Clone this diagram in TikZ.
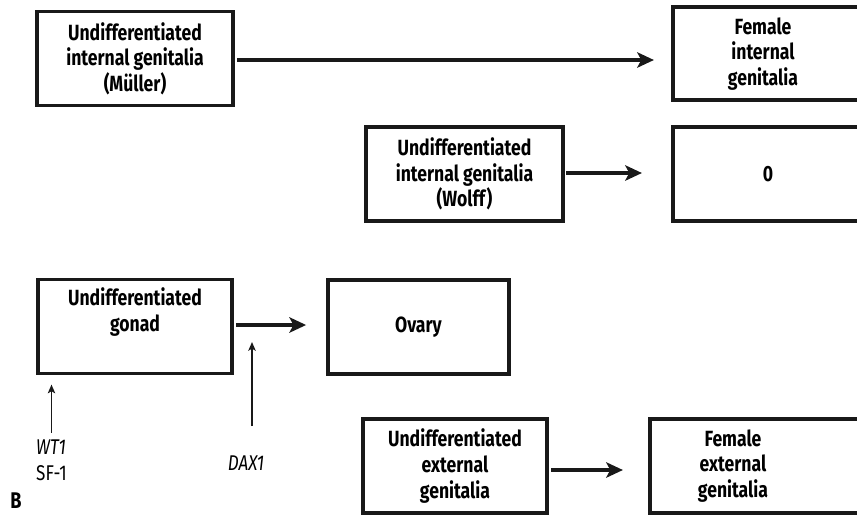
\documentclass[tikz,border=0pt]{standalone}
\usepackage{fontspec}
\setmainfont{Fira Sans}[FakeStretch=0.8]
\usepackage{tikz}
\usetikzlibrary{
  arrows.meta,
  positioning
}

\begin{document}
\begin{tikzpicture}[
  x=0.75pt, y=-0.75pt,
  boxtext/.style={font=\fontsize{16.5}{19.2}\selectfont\bfseries, align=center,
                  inner sep=0pt},
  box/.style={boxtext, draw=black!90, line width=2.6pt, fill=white,
              minimum height=70.5pt},
  gene/.style={font=\fontsize{16}{19.5}\selectfont, align=left, inner sep=0pt},
  thickarrow/.style={draw=black!90, line width=3.2pt,
                     -{Stealth[length=12.5pt, width=11.5pt, inset=3pt]}},
  thinarrow/.style={draw=black!90, line width=1.4pt,
                    -{Stealth[length=6.5pt, width=5.5pt, inset=1.5pt]}}
]

\useasboundingbox (0,0) rectangle (857,515);
\clip (0,0) rectangle (857,515);

% upper rows: internal genitalia
\node[box, minimum width=147pt] (mueller) at (135,58.5)
  {Undifferentiated\\internal genitalia\\(Müller)};
\node[box, minimum width=165pt, minimum height=69.5pt] (femint) at (783,53.5) {};
\node[boxtext] (feminttext) at (763,54) {Female\\internal\\genitalia};

\node[box, minimum width=148pt] (wolff) at (464.5,174)
  {Undifferentiated\\internal genitalia\\(Wolff)};
\node[box, minimum width=165pt] (zero) at (783,174) {};
\node[boxtext] (zerotext) at (768,174) {0};

% gonad and the genes acting on it
\node[box, minimum width=145.5pt] (gonad) at (135,326.5)
  {Undifferentiated\\gonad\\\strut};
\node[box, minimum width=136pt] (ovary) at (418.5,327) {Ovary};

\node[gene] (wt1) at (51.5,460) {\textit{WT1}\\SF-1};
\node[gene] (dax1) at (246,463) {\textit{DAX1}};
\coordinate (daxtip) at (252,342);

% external genitalia
\node[box, minimum width=138pt] (extgen) at (455,466)
  {Undifferentiated\\external\\genitalia};
\node[box, minimum width=165pt] (femext) at (760,466) {};
\node[boxtext] (femexttext) at (733,466) {Female\\external\\genitalia};

\node[font=\fontsize{17}{17}\selectfont\bfseries, inner sep=0pt] (panel) at (16,501) {B};

\draw[thickarrow, shorten <=2pt, shorten >=13pt] (mueller.east |- 0,60) -- (femint.west |- 0,60);
\draw[thickarrow, shorten <=1pt, shorten >=22pt] (wolff.east |- 0,173) -- (zero.west |- 0,173);
\draw[thickarrow, shorten <=2pt, shorten >=15pt] (gonad.east |- 0,325) -- (ovary.west |- 0,325);
\draw[thickarrow, shorten <=2pt, shorten >=19pt] (extgen.east |- 0,470) -- (femext.west |- 0,470);

\draw[thinarrow, shorten <=5pt, shorten >=7pt] (wt1.north) -- (gonad.south -| wt1.north);
\draw[thinarrow, shorten <=22pt] (dax1.north -| daxtip) -- (daxtip);

\end{tikzpicture}
\end{document}
